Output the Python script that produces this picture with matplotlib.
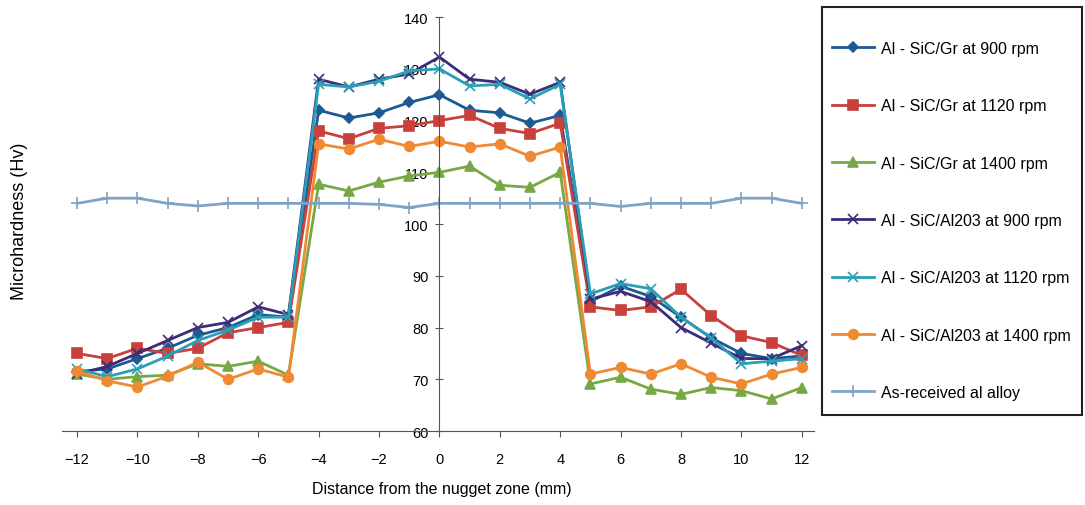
import numpy as np
import matplotlib
matplotlib.use("Agg")
import matplotlib.pyplot as plt
from matplotlib.patches import Rectangle

plt.rcParams['font.family'] = ['Liberation Sans', 'DejaVu Sans']

# Distance from nugget zone (mm)
distance = np.arange(-12, 13)

# Microhardness (Hv)
gr_900 = [71.5, 72, 74, 76, 78.5, 80, 82.5, 82,
          122, 120.5, 121.5, 123.5, 125, 122, 121.5, 119.5, 121,
          85, 88, 86, 82, 78, 75, 74, 74.5]
gr_1120 = [75, 74, 76, 75, 76, 79, 80, 81,
           118, 116.5, 118.5, 119, 120, 121, 118.5, 117.5, 119.5,
           84, 83.3, 84, 87.4, 82.3, 78.4, 77.1, 74.6]
gr_1400 = [71, 70, 70.5, 70.8, 73, 72.5, 73.5, 70.8,
           107.7, 106.4, 108.1, 109.3, 110, 111.2, 107.5, 107.1, 110,
           69.1, 70.4, 68.1, 67.1, 68.4, 67.8, 66.2, 68.4]
al2o3_900 = [71, 72.5, 75, 77.5, 80, 81, 84, 82.5,
             128, 126.5, 128, 129, 132.3, 128, 127.4, 125.1, 127.4,
             85.5, 87, 85, 80, 77, 74, 74, 76.5]
al2o3_1120 = [72, 70.5, 72, 74.5, 77.5, 79.5, 82, 82,
              127, 126.5, 127.6, 129.6, 130, 126.7, 127, 124.2, 127,
              86.5, 88.5, 87.5, 82, 78, 73, 73.5, 74]
al2o3_1400 = [71.6, 69.7, 68.5, 70.6, 73.3, 70, 72, 70.4,
              115.5, 114.5, 116.4, 115, 116, 114.9, 115.5, 113.1, 114.9,
              71, 72.3, 71, 73, 70.4, 69.1, 71, 72.3]
as_received = [104, 105, 105, 104, 103.5, 104, 104, 104, 104, 104, 103.8,
               103.2, 104, 104, 104, 104, 104, 104, 103.4, 104, 104,
               104, 105, 105, 104]

labels = ["Al - SiC/Gr at 900 rpm", "Al - SiC/Gr at 1120 rpm",
          "Al - SiC/Gr at 1400 rpm", "Al - SiC/Al203 at 900 rpm",
          "Al - SiC/Al203 at 1120 rpm", "Al - SiC/Al203 at 1400 rpm",
          "As-received al alloy"]

fig = plt.figure(figsize=(10.85, 5.06), dpi=100)
ax = fig.add_axes([0.0571, 0.1462, 0.693, 0.818])

# style per series: colour, marker, marker size
styles = [("#1d5a91", "D", 5),
          ("#c9403c", "s", 7),
          ("#78a845", "^", 7),
          ("#3b2c78", "x", 7),
          ("#2a9fb8", "x", 7),
          ("#ef8a32", "o", 7),
          ("#7fa3c6", "+", 8)]
series = [gr_900, gr_1120, gr_1400, al2o3_900, al2o3_1120, al2o3_1400,
          as_received]

for vals, lab, (c, m, ms) in zip(series, labels, styles):
  ax.plot(distance, vals, color=c, marker=m, markersize=ms, lw=2,
          markeredgewidth=1.2, label=lab)

ax.set_xlim(-12.5, 12.4)
ax.set_ylim(60, 140)
ax.set_xticks(range(-12, 13, 2))
ax.set_yticks(range(60, 141, 10))
ax.spines['left'].set_position(('data', 0))
ax.spines['top'].set_visible(False)
ax.spines['right'].set_visible(False)
ax.spines['left'].set_color("#555555")
ax.spines['bottom'].set_color("#555555")
ax.tick_params(axis='y', direction='inout', length=6, labelsize=10.5, pad=5,
               color="#555555")
ax.tick_params(axis='x', direction='out', length=4, labelsize=10.5, pad=11,
               color="#555555")
ax.set_xticklabels(["\u221212", "\u221210", "\u22128", "\u22126", "\u22124",
                    "\u22122", "0", "2", "4", "6", "8", "10", "12"])

fig.text(0.0184, 0.563, "Microhardness (Hv)", rotation=90, fontsize=13,
         ha="center", va="center")
fig.text(0.407, 0.032, "Distance from the nugget zone (mm)", fontsize=11.5,
         ha="center", va="center")

# legend box drawn on its own, entries placed inside it
fig.patches.append(Rectangle((0.7576, 0.1779), 0.2396, 0.8063,
                             transform=fig.transFigure, fill=False,
                             edgecolor="#222222", lw=1.5))
fig.legend(loc="upper left", bbox_to_anchor=(0.7668, 0.917),
           fontsize=11.5, labelspacing=2.65, borderpad=0, borderaxespad=0,
           handlelength=2.6, handletextpad=0.45, frameon=False)

fig.savefig("out.png", dpi=100)
